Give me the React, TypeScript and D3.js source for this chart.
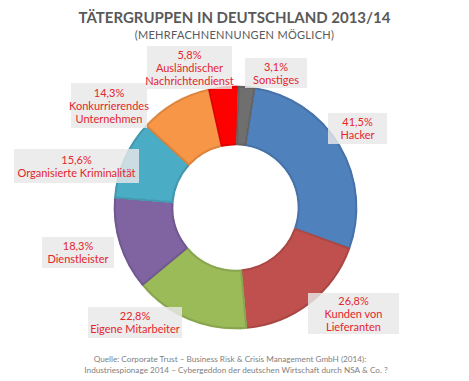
import React from "react";
import * as d3 from "d3";

const categories = [
  "Hacker",
  "Kunden von Lieferanten",
  "Eigene Mitarbeiter",
  "Dienstleister",
  "Organisierte Kriminalität",
  "Konkurrierendes Unternehmen",
  "Ausländischer Nachrichtendienst",
  "Sonstiges",
];
const values = [41.5, 26.8, 22.8, 18.3, 15.6, 14.3, 5.8, 3.1];
const labelLines = [
  ["41,5%", "Hacker"],
  ["26,8%", "Kunden von", "Lieferanten"],
  ["22,8%", "Eigene Mitarbeiter"],
  ["18,3%", "Dienstleister"],
  ["15,6%", "Organisierte Kriminalität"],
  ["14,3%", "Konkurrierendes", "Unternehmen"],
  ["5,8%", "Ausländischer", "Nachrichtendienst"],
  ["3,1%", "Sonstiges"],
];
const colors = ["#4F81BD", "#C0504D", "#9BBB59", "#8064A2", "#4BACC6", "#F79646", "#FF0000", "#6F6F6F"];
// label boxes [x0, y0, x1, y1]
const boxes = [
  [328, 113, 387, 144],
  [308, 293, 399, 334],
  [88, 307, 182, 338],
  [42, 237, 114, 268],
  [14, 149, 139, 183],
  [71, 83, 147, 128],
  [147, 46, 232, 89],
  [245, 58, 307, 88],
];

const W = 469;
const H = 381;
const cx = 235.5;
const cy = 207.5;
const rOuter = 122;
const rInner = 62;
const startDeg = 9;
const font = "Lato, 'Open Sans', sans-serif";

export default function App() {
  const pie = d3
    .pie<number>()
    .sort(null)
    .value((d) => d)
    .startAngle((startDeg * Math.PI) / 180)
    .endAngle((startDeg * Math.PI) / 180 + 2 * Math.PI);
  const arcs = pie(values);
  const arcGen = d3.arc<d3.PieArcDatum<number>>().innerRadius(rInner).outerRadius(rOuter);
  const arcInset = d3.arc<d3.PieArcDatum<number>>().innerRadius(rInner + 1.2).outerRadius(rOuter - 1.2);

  return (
    <svg
      width={W}
      height={H}
      style={{ position: "absolute", left: 0, top: 0, background: "#fff" }}
      fontFamily={font}
    >
      <text x={234.5} y={23} textAnchor="middle" fontSize={15} fontWeight="bold" fill="#595959">
        TÄTERGRUPPEN IN DEUTSCHLAND 2013/14
      </text>
      <text x={234.5} y={38.5} textAnchor="middle" fontSize={11} fill="#595959" letterSpacing={0.3}>
        (MEHRFACHNENNUNGEN MÖGLICH)
      </text>
      <g transform={`translate(${cx},${cy})`}>
        {arcs.map((a, i) => (
          <g key={categories[i]}>
            <path d={arcGen(a) || ""} fill={colors[i]} stroke="#fff" strokeWidth={1} />
            <path
              d={arcInset(a) || ""}
              fill="none"
              stroke={d3.color(colors[i])!.darker(0.35).toString()}
              strokeWidth={2}
              strokeLinejoin="round"
            />
          </g>
        ))}
      </g>
      {boxes.map((b, i) => {
        const lines = labelLines[i];
        const midX = (b[0] + b[2]) / 2;
        const midY = (b[1] + b[3]) / 2;
        const lh = 13;
        const firstY = midY - ((lines.length - 1) * lh) / 2 + 4;
        return (
          <g key={"lbl" + i}>
            <rect x={b[0]} y={b[1]} width={b[2] - b[0]} height={b[3] - b[1]} fill="#E8E8E8" opacity={0.82} />
            {lines.map((t, j) => (
              <text key={j} x={midX} y={firstY + j * lh} textAnchor="middle" fontSize={11} fill="#E4262C">
                {t}
              </text>
            ))}
          </g>
        );
      })}
      <text x={230} y={362} textAnchor="middle" fontSize={8.2} fill="#7F7F7F">
        Quelle: Corporate Trust – Business Risk &amp; Crisis Management GmbH (2014):
      </text>
      <text x={236} y={373} textAnchor="middle" fontSize={8.2} fill="#7F7F7F">
        Industriespionage 2014 – Cybergeddon der deutschen Wirtschaft durch NSA &amp; Co. ?
      </text>
    </svg>
  );
}
